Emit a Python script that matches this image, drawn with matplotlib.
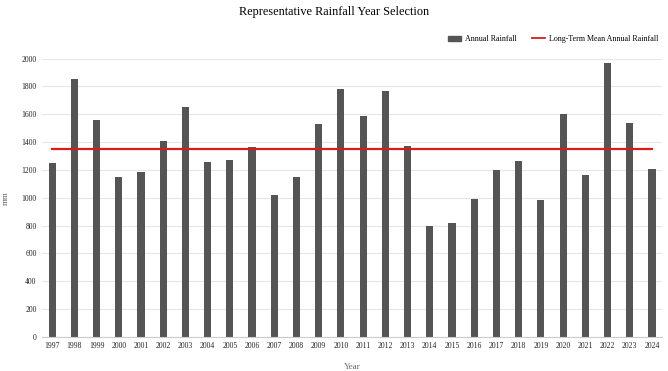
import matplotlib.pyplot as plt
from matplotlib.patches import Rectangle
from matplotlib.lines import Line2D

years = [str(y) for y in range(1997, 2025)]
rainfall = [1250, 1855, 1560, 1150, 1185, 1405, 1655, 1260, 1270, 1365,
            1020, 1150, 1530, 1780, 1590, 1765, 1370, 795, 820, 990,
            1200, 1265, 985, 1605, 1165, 1965, 1535, 1205]
mean_rainfall = 1348

plt.rcParams["font.family"] = ["Liberation Serif", "DejaVu Serif"]

fig = plt.figure(figsize=(6.68, 3.71), dpi=100)
ax = fig.add_axes([0.063, 0.092, 0.928, 0.75])

xs = list(range(len(years)))
ax.bar(xs, rainfall, width=0.32, color="#555555", zorder=2)
ax.plot([xs[0], xs[-1]], [mean_rainfall, mean_rainfall], color="#d81b1b",
        linewidth=1.6, zorder=3)

ax.set_xlim(-0.45, len(years) - 0.55)
ax.set_ylim(0, 2000)
ax.set_yticks(range(0, 2001, 200))
ax.set_xticks(xs)
ax.set_xticklabels(years)
ax.tick_params(axis="both", labelsize=5.5, length=0, colors="#222222", pad=4)

ax.grid(axis="y", color="#e6e6e6", linewidth=0.8, zorder=0)
for s in ["top", "right", "left"]:
    ax.spines[s].set_visible(False)
ax.spines["bottom"].set_color("#cccccc")
ax.spines["bottom"].set_linewidth(0.8)

ax.set_xlabel("Year", fontsize=6.5, color="#666666")
ax.set_ylabel("mm", fontsize=6.5, color="#666666")
ax.xaxis.set_label_coords(0.5, -0.094)
ax.yaxis.set_label_coords(-0.052, 0.5)

fig.suptitle("Representative Rainfall Year Selection", fontsize=8.8, y=0.985)

# legend: bar first, then mean line
handles = [Rectangle((0, 0), 1, 1, color="#555555"),
           Line2D([0], [0], color="#d81b1b", linewidth=1.3)]
labels = ["Annual Rainfall", "Long-Term Mean Annual Rainfall"]
fig.legend(handles, labels, loc="upper right", bbox_to_anchor=(0.997, 0.925),
           ncol=2, frameon=False, fontsize=5.8, handlelength=1.6,
           handleheight=0.6, handletextpad=0.6, columnspacing=1.8)

fig.savefig("out.png", dpi=100)
